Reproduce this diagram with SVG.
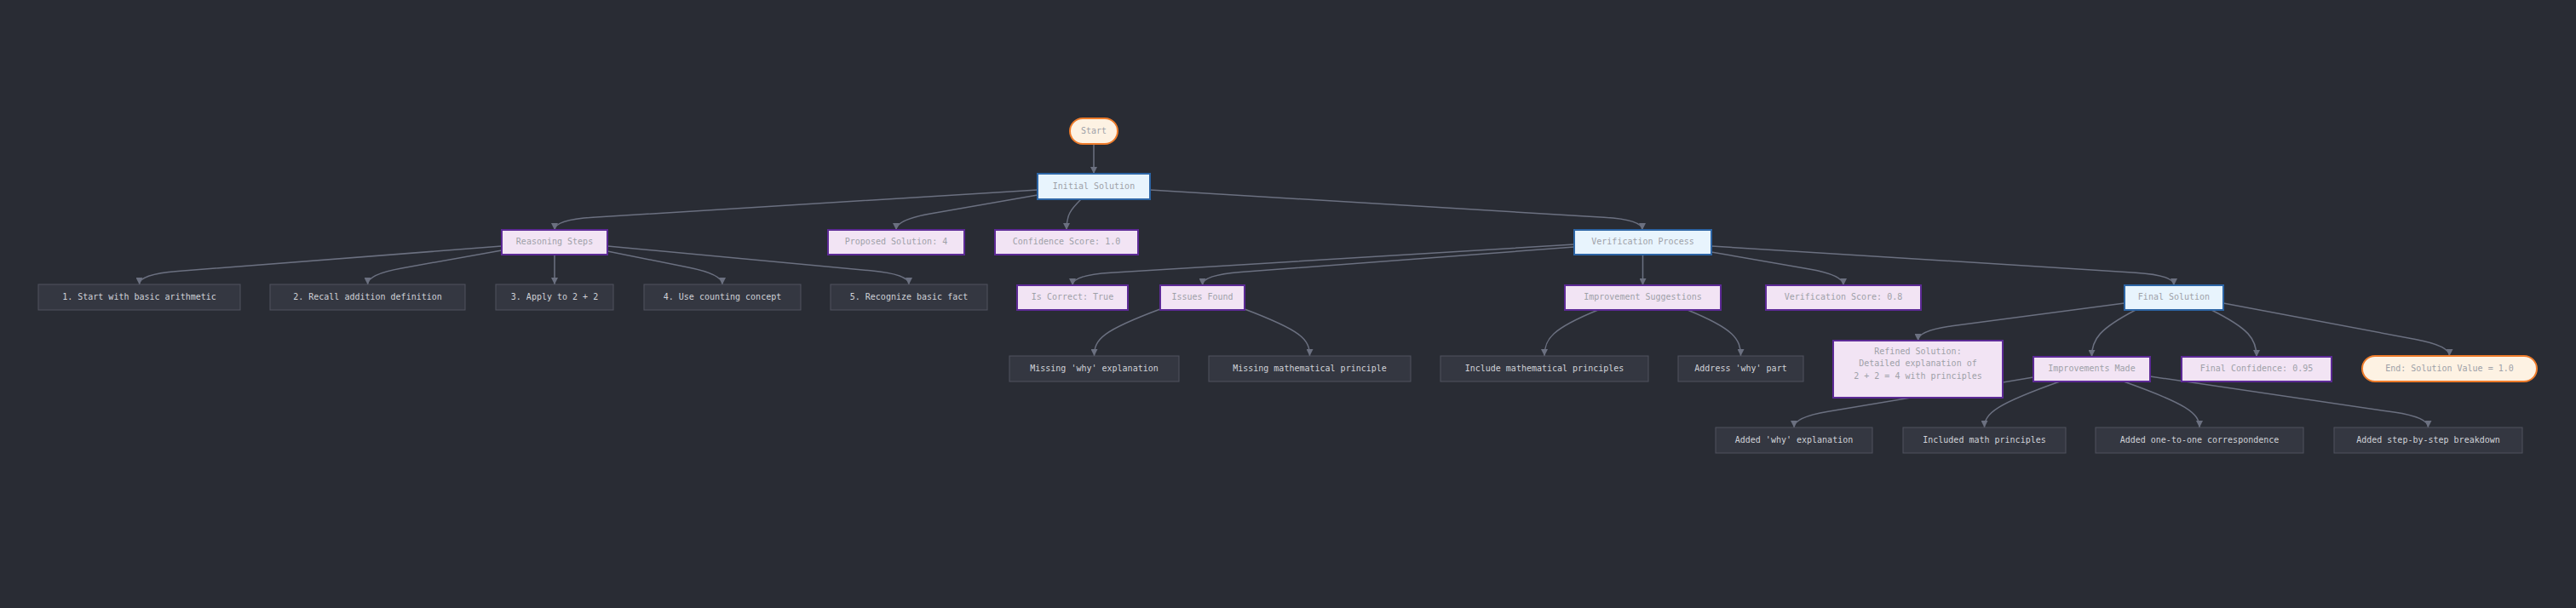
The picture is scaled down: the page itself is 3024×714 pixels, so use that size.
<svg xmlns="http://www.w3.org/2000/svg" width="3024" height="714" viewBox="0 0 3024 714">
<style>
text{font-family:"DejaVu Sans Mono","Liberation Mono",monospace;font-size:10px;text-anchor:middle}
.term rect{fill:#fdf2e3;stroke:#ee7c2b;stroke-width:2}
.proc rect{fill:#e8f4fd;stroke:#2d65a5;stroke-width:2}
.data rect{fill:#f2e4f4;stroke:#5d2a96;stroke-width:2}
.leaf rect{fill:#343741;stroke:#50535f;stroke-width:1}
.term text,.proc text,.data text{fill:#9ea1a8}
.leaf text{fill:#d0d2d8}
.edges path{fill:none;stroke:#6b7080;stroke-width:1.5;marker-end:url(#arr)}
</style>
<defs>
<marker id="arr" viewBox="0 0 10 10" refX="10" refY="5" markerWidth="8" markerHeight="8" markerUnits="userSpaceOnUse" orient="auto">
<path d="M0,0 L10,5 L0,10 z" fill="#6b7080"/>
</marker>
</defs>
<rect width="3024" height="714" fill="#292c34"/>
<g class="edges" id="connectors">
<path d="M1284,169 L1284,204"/>
<path d="M1218,223 L696,255.2 Q651,258 651,270"/>
<path d="M1218,229 L1092,251 Q1052,258 1052,270"/>
<path d="M1269,234 C1257,246 1252,252 1252,270"/>
<path d="M1350,223 L1883,255.3 Q1928,258 1928,270"/>
<path d="M589,289 L208.5,318.5 Q163.5,322 163.5,334"/>
<path d="M589,294 L471.5,314.9 Q431.5,322 431.5,334"/>
<path d="M651,299 L651,334"/>
<path d="M713,295 L808,314 Q848,322 848,334"/>
<path d="M713,289 L1022,317.8 Q1067,322 1067,334"/>
<path d="M1848,287 L1304,320.2 Q1259,323 1259,335"/>
<path d="M1848,290 L1456.5,319.6 Q1411.5,323 1411.5,335"/>
<path d="M1928.5,299 L1928.5,335"/>
<path d="M2009,296 L2124,316 Q2164,323 2164,335"/>
<path d="M2009,289 L2507,320.2 Q2552,323 2552,335"/>
<path d="M1362,363 C1295,388 1284.5,398 1284.5,418"/>
<path d="M1461,363 C1527,388 1537.5,398 1537.5,418"/>
<path d="M1876,364 C1822,386 1813,398 1813,418"/>
<path d="M1981,364 C2035,386 2043.5,398 2043.5,418"/>
<path d="M2494,356 L2291.5,382.7 Q2251.5,388 2251.5,400"/>
<path d="M2507,364 C2465,386 2455.5,398 2455.5,419"/>
<path d="M2596,364 C2640,386 2649,398 2649,419"/>
<path d="M2610,356 L2835.5,398.5 Q2875.5,406 2875.5,418"/>
<path d="M2387,443 L2146,483.3 Q2106,490 2106,502"/>
<path d="M2418,448 C2345,474 2329.5,485 2329.5,502"/>
<path d="M2493,448 C2566,474 2582,485 2582,502"/>
<path d="M2524,442 L2810.5,484.1 Q2850.5,490 2850.5,502"/>
</g>
<g id="start" class="term"><rect x="1256" y="139" width="56" height="30" rx="15"/><text x="1284" y="156.5">Start</text></g>
<g id="initial" class="proc"><rect x="1218" y="204" width="132" height="30"/><text x="1284" y="221.5">Initial Solution</text></g>
<g id="reasoning" class="data"><rect x="589" y="270" width="124" height="29"/><text x="651" y="287">Reasoning Steps</text></g>
<g id="proposed" class="data"><rect x="972" y="270" width="160" height="29"/><text x="1052" y="287">Proposed Solution: 4</text></g>
<g id="confidence" class="data"><rect x="1168" y="270" width="168" height="29"/><text x="1252" y="287">Confidence Score: 1.0</text></g>
<g id="verification" class="proc"><rect x="1848" y="270" width="161" height="29"/><text x="1928.5" y="287">Verification Process</text></g>
<g id="step1" class="leaf"><rect x="45" y="334" width="237" height="30"/><text x="163.5" y="351.5">1. Start with basic arithmetic</text></g>
<g id="step2" class="leaf"><rect x="317" y="334" width="229" height="30"/><text x="431.5" y="351.5">2. Recall addition definition</text></g>
<g id="step3" class="leaf"><rect x="582" y="334" width="138" height="30"/><text x="651" y="351.5">3. Apply to 2 + 2</text></g>
<g id="step4" class="leaf"><rect x="756" y="334" width="184" height="30"/><text x="848" y="351.5">4. Use counting concept</text></g>
<g id="step5" class="leaf"><rect x="975" y="334" width="184" height="30"/><text x="1067" y="351.5">5. Recognize basic fact</text></g>
<g id="iscorrect" class="data"><rect x="1194" y="335" width="130" height="29"/><text x="1259" y="352">Is Correct: True</text></g>
<g id="issues" class="data"><rect x="1362" y="335" width="99" height="29"/><text x="1411.5" y="352">Issues Found</text></g>
<g id="suggestions" class="data"><rect x="1837" y="335" width="183" height="29"/><text x="1928.5" y="352">Improvement Suggestions</text></g>
<g id="vscore" class="data"><rect x="2073" y="335" width="182" height="29"/><text x="2164" y="352">Verification Score: 0.8</text></g>
<g id="final" class="proc"><rect x="2494" y="335" width="116" height="29"/><text x="2552" y="352">Final Solution</text></g>
<g id="miss1" class="leaf"><rect x="1185" y="418" width="199" height="30"/><text x="1284.5" y="435.5">Missing 'why' explanation</text></g>
<g id="miss2" class="leaf"><rect x="1419" y="418" width="237" height="30"/><text x="1537.5" y="435.5">Missing mathematical principle</text></g>
<g id="sug1" class="leaf"><rect x="1691" y="418" width="244" height="30"/><text x="1813" y="435.5">Include mathematical principles</text></g>
<g id="sug2" class="leaf"><rect x="1970" y="418" width="147" height="30"/><text x="2043.5" y="435.5">Address 'why' part</text></g>
<g id="refined" class="data"><rect x="2152" y="400" width="199" height="67"/><text x="2251.5" y="415.5">Refined Solution:</text><text x="2251.5" y="430">Detailed explanation of</text><text x="2251.5" y="444.5">2 + 2 = 4 with principles</text></g>
<g id="improvements" class="data"><rect x="2387" y="419" width="137" height="29"/><text x="2455.5" y="436">Improvements Made</text></g>
<g id="finalconf" class="data"><rect x="2561" y="419" width="176" height="29"/><text x="2649" y="436">Final Confidence: 0.95</text></g>
<g id="end" class="term"><rect x="2773" y="418" width="205" height="30" rx="15"/><text x="2875.5" y="435.5">End: Solution Value = 1.0</text></g>
<g id="imp1" class="leaf"><rect x="2014" y="502" width="184" height="30"/><text x="2106" y="519.5">Added 'why' explanation</text></g>
<g id="imp2" class="leaf"><rect x="2234" y="502" width="191" height="30"/><text x="2329.5" y="519.5">Included math principles</text></g>
<g id="imp3" class="leaf"><rect x="2460" y="502" width="244" height="30"/><text x="2582" y="519.5">Added one-to-one correspondence</text></g>
<g id="imp4" class="leaf"><rect x="2740" y="502" width="221" height="30"/><text x="2850.5" y="519.5">Added step-by-step breakdown</text></g>
</svg>
